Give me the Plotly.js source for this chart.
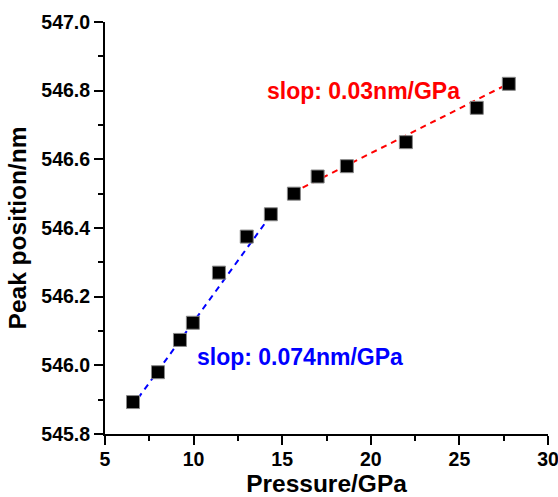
<!DOCTYPE html>
<html><head><meta charset="utf-8">
<script src="https://cdn.plot.ly/plotly-3.0.1.min.js"></script>
<style>body{margin:0;background:#fff}#c{width:558px;height:497px}</style>
</head><body><div id="c"></div>
<script>
const pressure = [6.58, 7.99, 9.23, 9.96, 11.43, 13.0, 14.36, 15.66, 17.0, 18.65, 21.98, 25.98, 27.79];
const peak = [545.893, 545.98, 546.074, 546.124, 546.27, 546.375, 546.44, 546.50, 546.55, 546.58, 546.65, 546.75, 546.82];
const fitLowX = [6.5, 14.3];
const fitLowY = [545.878, 546.433];
const fitHighX = [15.6, 27.8];
const fitHighY = [546.503, 546.821];
const xTickVals = [5, 10, 15, 20, 25, 30];
const xTickText = ['5', '10', '15', '20', '25', '30'];
const yTickVals = [545.8, 546.0, 546.2, 546.4, 546.6, 546.8, 547.0];
const yTickText = ['545.8', '546.0', '546.2', '546.4', '546.6', '546.8', '547.0'];
const xTitle = 'Pressure/GPa';
const yTitle = 'Peak position/nm';
const labelLow = 'slop: 0.074nm/GPa';
const labelHigh = 'slop: 0.03nm/GPa';

const F = 'Arial, Liberation Sans, sans-serif';
const b = s => '<b>' + s + '</b>';
const traces = [
  {x: fitLowX, y: fitLowY, mode: 'lines', line: {color: '#0000ff', width: 2, dash: '6px,5px'}, hoverinfo: 'skip'},
  {x: fitHighX, y: fitHighY, mode: 'lines', line: {color: '#ff0000', width: 2, dash: '6px,5px'}, hoverinfo: 'skip'},
  {x: pressure, y: peak, mode: 'markers', marker: {symbol: 'square', size: 13, color: '#000', line: {color: '#888', width: 1}}}
];
const axBase = {
  showline: true, linecolor: '#000', linewidth: 2, mirror: false,
  ticks: 'outside', ticklen: 9, tickwidth: 2, tickcolor: '#000',
  showgrid: false, zeroline: false, ticklabeloverflow: 'allow',
  tickmode: 'array',
  tickfont: {family: F, size: 19.5, color: '#000', weight: 'bold'}
};
const layout = {
  width: 558, height: 497,
  margin: {l: 105, r: 10, t: 22, b: 63},
  showlegend: false,
  paper_bgcolor: '#fff', plot_bgcolor: '#fff',
  xaxis: Object.assign({}, axBase, {
    range: [5, 30], tickvals: xTickVals, ticktext: xTickText.map(b), ticklabelstandoff: -2,
    minor: {tickmode: 'linear', tick0: 5, dtick: 2.5, ticks: 'outside', ticklen: 5, tickwidth: 2, tickcolor: '#000', showgrid: false},
    title: {text: b(xTitle), font: {family: F, size: 24.5, color: '#000'}, standoff: 10}
  }),
  yaxis: Object.assign({}, axBase, {
    range: [545.8, 547.0], tickvals: yTickVals, ticktext: yTickText.map(b),
    minor: {tickmode: 'linear', tick0: 545.8, dtick: 0.1, ticks: 'outside', ticklen: 5, tickwidth: 2, tickcolor: '#000', showgrid: false},
    title: {text: b(yTitle), font: {family: F, size: 24.5, color: '#000'}, standoff: 8}
  }),
  annotations: [
    {x: 16.0, y: 546.025, xref: 'x', yref: 'y', text: b(labelLow), showarrow: false,
     xanchor: 'center', yanchor: 'middle', font: {family: F, size: 23, color: '#0000ff'}},
    {x: 19.6, y: 546.80, xref: 'x', yref: 'y', text: b(labelHigh), showarrow: false,
     xanchor: 'center', yanchor: 'middle', font: {family: F, size: 23, color: '#ff0000'}}
  ]
};
Plotly.newPlot('c', traces, layout, {displayModeBar: false, staticPlot: true});
</script></body></html>
